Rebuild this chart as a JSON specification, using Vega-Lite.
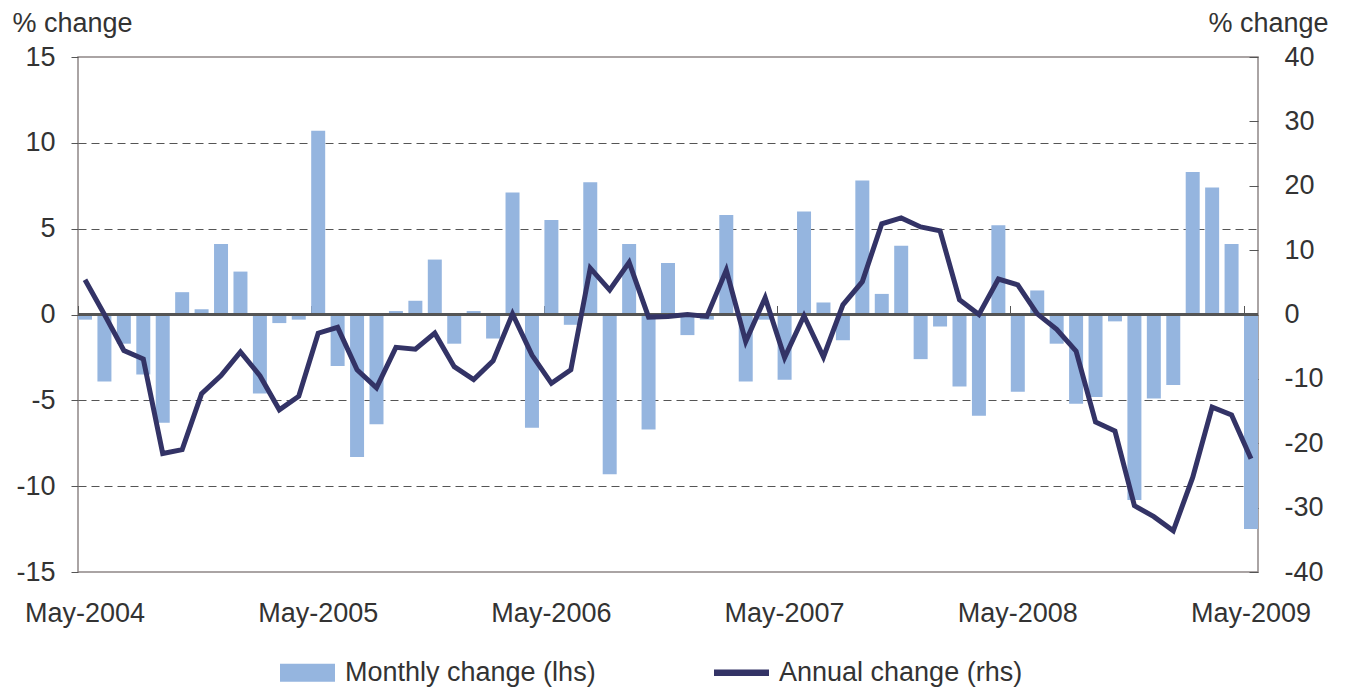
{
  "$schema": "https://vega.github.io/schema/vega-lite/v6.json",
  "width": 1180,
  "height": 515,
  "autosize": {"type": "none"},
  "padding": {"left": 78, "top": 57, "right": 87, "bottom": 117},
  "background": "white",
  "config": {
    "view": {"stroke": "#8f8686", "strokeWidth": 1.5},
    "font": "Liberation Sans",
    "axis": {
      "labelFont": "Liberation Sans",
      "labelFontSize": 27,
      "labelColor": "#333333",
      "titleFont": "Liberation Sans",
      "titleFontSize": 27,
      "titleFontWeight": "normal",
      "titleColor": "#333333"
    },
    "legend": {"labelFont": "Liberation Sans", "labelFontSize": 27, "labelColor": "#333333", "labelLimit": 0}
  },
  "data": {
    "values": [
      {"month": "May-2004", "monthly": -0.3, "annual": 5.4},
      {"month": "Jun-2004", "monthly": -3.9, "annual": 0.0},
      {"month": "Jul-2004", "monthly": -1.7, "annual": -5.6},
      {"month": "Aug-2004", "monthly": -3.5, "annual": -6.9},
      {"month": "Sep-2004", "monthly": -6.3, "annual": -21.6},
      {"month": "Oct-2004", "monthly": 1.3, "annual": -21.0},
      {"month": "Nov-2004", "monthly": 0.3, "annual": -12.3},
      {"month": "Dec-2004", "monthly": 4.1, "annual": -9.5},
      {"month": "Jan-2005", "monthly": 2.5, "annual": -5.8},
      {"month": "Feb-2005", "monthly": -4.6, "annual": -9.5},
      {"month": "Mar-2005", "monthly": -0.5, "annual": -14.8},
      {"month": "Apr-2005", "monthly": -0.3, "annual": -12.7},
      {"month": "May-2005", "monthly": 10.7, "annual": -2.9},
      {"month": "Jun-2005", "monthly": -3.0, "annual": -2.0},
      {"month": "Jul-2005", "monthly": -8.3, "annual": -8.6},
      {"month": "Aug-2005", "monthly": -6.4, "annual": -11.4},
      {"month": "Sep-2005", "monthly": 0.2, "annual": -5.1},
      {"month": "Oct-2005", "monthly": 0.8, "annual": -5.4},
      {"month": "Nov-2005", "monthly": 3.2, "annual": -2.9},
      {"month": "Dec-2005", "monthly": -1.7, "annual": -8.1},
      {"month": "Jan-2006", "monthly": 0.2, "annual": -10.1},
      {"month": "Feb-2006", "monthly": -1.4, "annual": -7.2},
      {"month": "Mar-2006", "monthly": 7.1, "annual": 0.1},
      {"month": "Apr-2006", "monthly": -6.6, "annual": -6.3},
      {"month": "May-2006", "monthly": 5.5, "annual": -10.7},
      {"month": "Jun-2006", "monthly": -0.6, "annual": -8.6},
      {"month": "Jul-2006", "monthly": 7.7, "annual": 7.2},
      {"month": "Aug-2006", "monthly": -9.3, "annual": 3.8},
      {"month": "Sep-2006", "monthly": 4.1, "annual": 8.1},
      {"month": "Oct-2006", "monthly": -6.7, "annual": -0.4},
      {"month": "Nov-2006", "monthly": 3.0, "annual": -0.3},
      {"month": "Dec-2006", "monthly": -1.2, "annual": 0.0},
      {"month": "Jan-2007", "monthly": -0.3, "annual": -0.3},
      {"month": "Feb-2007", "monthly": 5.8, "annual": 6.9},
      {"month": "Mar-2007", "monthly": -3.9, "annual": -4.2},
      {"month": "Apr-2007", "monthly": -0.3, "annual": 2.6},
      {"month": "May-2007", "monthly": -3.8, "annual": -6.7},
      {"month": "Jun-2007", "monthly": 6.0, "annual": -0.2},
      {"month": "Jul-2007", "monthly": 0.7, "annual": -6.6},
      {"month": "Aug-2007", "monthly": -1.5, "annual": 1.5},
      {"month": "Sep-2007", "monthly": 7.8, "annual": 5.1},
      {"month": "Oct-2007", "monthly": 1.2, "annual": 14.1},
      {"month": "Nov-2007", "monthly": 4.0, "annual": 15.0},
      {"month": "Dec-2007", "monthly": -2.6, "annual": 13.6},
      {"month": "Jan-2008", "monthly": -0.7, "annual": 13.0},
      {"month": "Feb-2008", "monthly": -4.2, "annual": 2.3},
      {"month": "Mar-2008", "monthly": -5.9, "annual": 0.0},
      {"month": "Apr-2008", "monthly": 5.2, "annual": 5.5},
      {"month": "May-2008", "monthly": -4.5, "annual": 4.6},
      {"month": "Jun-2008", "monthly": 1.4, "annual": 0.1},
      {"month": "Jul-2008", "monthly": -1.7, "annual": -2.3},
      {"month": "Aug-2008", "monthly": -5.2, "annual": -5.7},
      {"month": "Sep-2008", "monthly": -4.8, "annual": -16.7},
      {"month": "Oct-2008", "monthly": -0.4, "annual": -18.1},
      {"month": "Nov-2008", "monthly": -10.8, "annual": -29.7},
      {"month": "Dec-2008", "monthly": -4.9, "annual": -31.4},
      {"month": "Jan-2009", "monthly": -4.1, "annual": -33.6},
      {"month": "Feb-2009", "monthly": 8.3, "annual": -25.3},
      {"month": "Mar-2009", "monthly": 7.4, "annual": -14.4},
      {"month": "Apr-2009", "monthly": 4.1, "annual": -15.6},
      {"month": "May-2009", "monthly": -12.5, "annual": -22.4}
    ]
  },
  "layer": [
    {
      "layer": [
        {
          "mark": {"type": "bar"},
          "encoding": {
            "x": {
              "field": "month", "type": "ordinal", "sort": null,
              "scale": {"paddingInner": 0.28, "paddingOuter": 0},
              "axis": {
                "orient": "bottom", "title": null, "labelAngle": 0, "ticks": false, "domain": false,
                "labelExpr": "slice(datum.label,0,3)=='May' ? datum.label : ''",
                "labelPadding": 28, "labelBaseline": "top", "labelOverlap": false
              }
            },
            "y": {
              "field": "monthly", "type": "quantitative",
              "scale": {"domain": [-15, 15], "nice": false, "zero": false},
              "axis": {
                "values": [-15, -10, -5, 0, 5, 10, 15],
                "labelExpr": "toString(datum.value)",
                "title": "% change", "titleAngle": 0, "titleAlign": "left", "titleBaseline": "alphabetic",
                "titleX": -66, "titleY": -26,
                "domain": false, "tickSize": 7, "tickColor": "#555555", "labelPadding": 16,
                "grid": true, "gridDash": [8, 5],
                "gridColor": {"condition": {"test": "datum.value == 0 || abs(datum.value) == 15", "value": "transparent"}, "value": "#555555"}
              }
            },
            "color": {
              "datum": "Monthly change (lhs)", "type": "nominal",
              "scale": {"domain": ["Monthly change (lhs)", "Annual change (rhs)"], "range": ["#95b5df", "#333366"]},
              "legend": {
                "orient": "none", "legendX": 202, "legendY": 588, "direction": "horizontal",
                "title": null, "symbolSize": 3025, "labelOffset": 10, "columnPadding": 118,
                "labelLimit": 0,
                "symbolStrokeWidth": 0, "symbolOpacity": 1,
                "encode": {
                  "symbols": {
                    "update": {
                      "shape": {"signal": "datum.value == 'Monthly change (lhs)' ? 'M-1,-0.33H1V0.33H-1Z' : 'M-1,-0.12H1V0.12H-1Z'"},
                      "fill": {"signal": "datum.value == 'Monthly change (lhs)' ? '#95b5df' : '#333366'"},
                      "strokeWidth": {"value": 0},
                      "opacity": {"value": 1}
                    }
                  }
                }
              }
            }
          }
        },
        {
          "mark": {"type": "rule", "color": "#555555", "strokeWidth": 1.5},
          "encoding": {"y": {"datum": 0, "type": "quantitative"}}
        }
      ]
    },
    {
      "mark": {"type": "line", "strokeWidth": 5, "strokeJoin": "miter"},
      "encoding": {
        "x": {
          "field": "month", "type": "ordinal", "sort": null,
          "axis": {
            "orient": "top", "offset": -257.5, "title": null,
            "values": ["May-2004", "May-2005", "May-2006", "May-2007", "May-2008", "May-2009"],
            "bandPosition": 0, "labels": false, "domain": false, "ticks": true,
            "tickSize": 9, "tickColor": "#555555", "grid": false
          }
        },
        "y": {
          "field": "annual", "type": "quantitative",
          "scale": {"domain": [-40, 40], "nice": false, "zero": false},
          "axis": {
            "orient": "right",
            "values": [-40, -30, -20, -10, 0, 10, 20, 30, 40],
            "labelExpr": "toString(datum.value)",
            "grid": false, "domain": false, "tickSize": -9, "tickColor": "#555555",
            "labelPadding": 35, "labelAlign": "left",
            "title": "% change", "titleAngle": 0, "titleAlign": "right", "titleBaseline": "alphabetic",
            "titleX": 70, "titleY": -26
          }
        },
        "color": {"datum": "Annual change (rhs)", "type": "nominal"}
      }
    }
  ],
  "resolve": {"scale": {"y": "independent"}, "axis": {"x": "independent"}}
}
